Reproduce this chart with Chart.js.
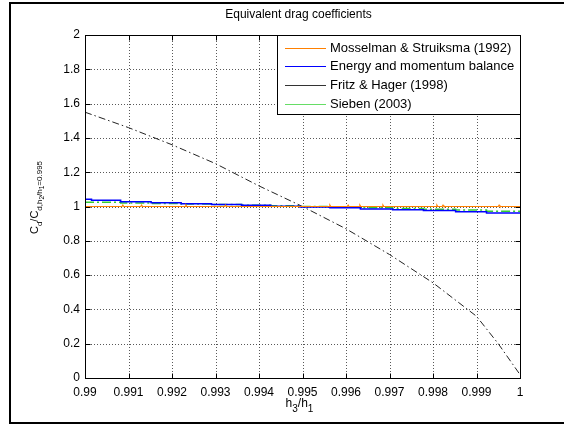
<!DOCTYPE html>
<html><head><meta charset="utf-8">
<script src="https://cdn.jsdelivr.net/npm/chart.js@4/dist/chart.umd.min.js"></script>
<style>html,body{margin:0;padding:0;background:#fff;}#wrap{position:relative;width:564px;height:425px;}</style>
</head><body><div id="wrap"><canvas id="c" width="564" height="425"></canvas></div>
<script>
const chartTitle = 'Equivalent drag coefficients';
const xTicks = [0.99,0.991,0.992,0.993,0.994,0.995,0.996,0.997,0.998,0.999,1.0];
const xTickLabels = ['0.99','0.991','0.992','0.993','0.994','0.995','0.996','0.997','0.998','0.999','1'];
const yTicks = [0,0.2,0.4,0.6,0.8,1,1.2,1.4,1.6,1.8,2];
const yTickLabels = ['0','0.2','0.4','0.6','0.8','1','1.2','1.4','1.6','1.8','2'];
const seriesLabels = ['Mosselman & Struiksma (1992)','Energy and momentum balance','Fritz & Hager (1998)','Sieben (2003)'];

const mosselmanX = [0.99, 0.99085,0.99087,0.99089, 0.99128,0.9913,0.99132, 0.9923,0.99232,0.99234, 0.99321,0.99323,0.99325, 0.99561,0.99563,0.99565, 0.99603,0.99605,0.99607, 0.9963,0.99632,0.99634, 0.99683,0.99685,0.99687, 0.99807,0.99809,0.99811, 0.99821,0.99823,0.99825, 0.9995,0.99952,0.99954, 1.0];
const mosselmanY = [1.0, 1,1.008,1, 1,1.008,1, 1,1.008,1, 1,1.008,1, 1,1.008,1, 1,1.008,1, 1,1.008,1, 1,1.008,1, 1,1.008,1, 1,1.008,1, 1,1.008,1, 1.0];

const energyX = [0.99,0.99015,0.99082,0.99152,0.99221,0.99291,0.9936,0.99427,0.99494,0.99563,0.99633,0.99707,0.99778,0.99852,0.99923,1.0];
const energyY = [1.042,1.036,1.028,1.022,1.016,1.012,1.007,1.002,0.997,0.992,0.986,0.981,0.976,0.970,0.962,0.962];

const fritzX = [0.99,0.991,0.992,0.993,0.994,0.995,0.996,0.997,0.998,0.999,0.9995,1.0];
const fritzY = [1.55,1.46,1.36,1.25,1.12,1.0,0.87,0.72,0.555,0.36,0.2,0.02];

const siebenX = [0.99,0.99082,0.99152,0.99221,0.99291,0.9936,0.99427,0.99494,0.99563,0.99633,0.99707,0.99778,0.99852,0.99923,1.0];
const siebenY = [1.025,1.021,1.018,1.014,1.011,1.007,1.004,1.0,0.996,0.992,0.988,0.984,0.979,0.973,0.973];

const pts = (xs, ys) => xs.map((x, i) => ({x: x, y: ys[i]}));
const FONT = "'Liberation Sans', Arial, sans-serif";

function drawRich(ctx, parts) {
  let u = 0;
  parts.forEach(p => {
    ctx.font = p.size + 'px ' + FONT;
    ctx.fillText(p.t, u, p.shift);
    u += ctx.measureText(p.t).width;
  });
  return u;
}
function richWidth(ctx, parts) {
  let u = 0;
  parts.forEach(p => { ctx.font = p.size + 'px ' + FONT; u += ctx.measureText(p.t).width; });
  return u;
}

const decor = {
  id: 'decor',
  beforeDatasetsDraw(chart) {
    const ctx = chart.ctx, xs = chart.scales.x, ys = chart.scales.y, a = chart.chartArea;
    ctx.save();
    ctx.strokeStyle = 'rgba(0,0,0,0.65)';
    ctx.lineWidth = 1;
    ctx.setLineDash([1, 2]);
    xTicks.forEach(v => {
      const px = Math.round(xs.getPixelForValue(v)) + 0.5;
      if (px <= a.left + 1 || px >= a.right - 1) return;
      ctx.beginPath(); ctx.moveTo(px, a.bottom); ctx.lineTo(px, a.top); ctx.stroke();
    });
    yTicks.forEach(v => {
      const py = Math.round(ys.getPixelForValue(v)) + 0.5;
      if (py <= a.top + 1 || py >= a.bottom - 1) return;
      ctx.beginPath(); ctx.moveTo(a.left, py); ctx.lineTo(a.right, py); ctx.stroke();
    });
    ctx.restore();
  },
  afterDraw(chart) {
    const ctx = chart.ctx, xs = chart.scales.x, ys = chart.scales.y, a = chart.chartArea;
    ctx.save();
    ctx.strokeStyle = '#000'; ctx.lineWidth = 1; ctx.setLineDash([]);
    const L = Math.round(a.left) + 0.5, R = Math.round(a.right) + 0.5, T = Math.round(a.top) + 0.5, B = Math.round(a.bottom) + 0.5;
    ctx.strokeRect(L, T, R - L, B - T);
    ctx.beginPath();
    xTicks.forEach(v => {
      const px = Math.round(xs.getPixelForValue(v)) + 0.5;
      ctx.moveTo(px, B); ctx.lineTo(px, B - 5);
      ctx.moveTo(px, T); ctx.lineTo(px, T + 5);
    });
    yTicks.forEach(v => {
      const py = Math.round(ys.getPixelForValue(v)) + 0.5;
      ctx.moveTo(L, py); ctx.lineTo(L + 5, py);
      ctx.moveTo(R, py); ctx.lineTo(R - 5, py);
    });
    ctx.stroke();

    // legend
    const lw = 243, lh = 79;
    const lx = Math.round(a.right) - lw, ly = Math.round(a.top);
    ctx.fillStyle = '#fff';
    ctx.fillRect(lx + 0.5, ly + 0.5, lw, lh);
    ctx.strokeStyle = '#000';
    ctx.lineWidth = 1;
    ctx.strokeRect(lx + 0.5, ly + 0.5, lw, lh);
    ctx.textBaseline = 'middle'; ctx.textAlign = 'left';
    ctx.font = '13px ' + FONT;
    chart.data.datasets.forEach((ds, i) => {
      const yy = ly + 12.5 + i * 18.7;
      ctx.strokeStyle = ds.legendColor || ds.borderColor;
      ctx.lineWidth = 1;
      ctx.setLineDash([]);
      ctx.beginPath(); ctx.moveTo(lx + 8, Math.round(yy) + 0.5); ctx.lineTo(lx + 49, Math.round(yy) + 0.5); ctx.stroke();
      ctx.fillStyle = '#000';
      ctx.fillText(ds.label, lx + 53, yy + 0.5);
    });

    // title
    ctx.fillStyle = '#000';
    ctx.font = '12px ' + FONT;
    ctx.textAlign = 'center'; ctx.textBaseline = 'alphabetic';
    ctx.fillText(chartTitle, (a.left + a.right) / 2 - 4, 18);

    // x axis title h3/h1
    ctx.textAlign = 'left';
    const xParts = [{t:'h', size:12, shift:0},{t:'3', size:10, shift:5},{t:'/h', size:12, shift:0},{t:'1', size:10, shift:5}];
    const xw = richWidth(ctx, xParts);
    ctx.save();
    ctx.translate((a.left + a.right) / 2 - 3 - xw / 2, 407);
    drawRich(ctx, xParts);
    ctx.restore();

    // y axis title
    const yParts = [{t:'C', size:11, shift:0},{t:'d', size:8, shift:4},{t:'/C', size:11, shift:0},{t:'d,h', size:8, shift:4},{t:'2', size:6.5, shift:6},{t:'/h', size:8, shift:4},{t:'1', size:6.5, shift:6},{t:'=0.995', size:8, shift:4}];
    const yw = richWidth(ctx, yParts);
    ctx.save();
    ctx.translate(38, (a.top + a.bottom) / 2 - 9 + yw / 2);
    ctx.rotate(-Math.PI / 2);
    drawRich(ctx, yParts);
    ctx.restore();

    // outer figure frame
    ctx.fillStyle = '#000';
    ctx.fillRect(9, 2, 555, 2);
    ctx.fillRect(9, 2, 2, 422);
    ctx.fillRect(9, 422, 555, 2);
    ctx.restore();
  }
};

new Chart(document.getElementById('c'), {
  type: 'line',
  data: {
    datasets: [
      {label: seriesLabels[0], data: pts(mosselmanX, mosselmanY), borderColor: '#ff8000', borderWidth: 1.2, pointRadius: 0},
      {label: seriesLabels[1], data: pts(energyX, energyY), borderColor: '#0000ff', borderWidth: 1.5, pointRadius: 0, stepped: true},
      {label: seriesLabels[2], data: pts(fritzX, fritzY), borderColor: '#222', legendColor: '#333', borderWidth: 1, pointRadius: 0, borderDash: [7, 3, 1.5, 3]},
      {label: seriesLabels[3], data: pts(siebenX, siebenY), borderColor: '#33cc33', legendColor: '#66dd66', borderWidth: 1.5, pointRadius: 0, stepped: true, borderDash: [9, 3, 2, 3]}
    ]
  },
  options: {
    responsive: false,
    devicePixelRatio: 1,
    animation: false,
    events: [],
    layout: {padding: {top: 35, right: 44, left: 0, bottom: 0}},
    plugins: {legend: {display: false}, title: {display: false}, tooltip: {enabled: false}},
    scales: {
      x: {
        type: 'linear', min: 0.99, max: 1.0,
        afterBuildTicks: s => { s.ticks = xTicks.map(v => ({value: v})); },
        afterFit: s => { s.height = 47; },
        grid: {display: false, drawTicks: false},
        border: {display: false},
        ticks: {
          autoSkip: false, maxRotation: 0, minRotation: 0, padding: 7, color: '#000',
          font: {family: FONT, size: 12},
          callback: (v, i) => xTickLabels[i]
        }
      },
      y: {
        type: 'linear', min: 0, max: 2,
        afterBuildTicks: s => { s.ticks = yTicks.map(v => ({value: v})); },
        afterFit: s => { s.width = 85; },
        grid: {display: false, drawTicks: false},
        border: {display: false},
        ticks: {
          padding: 5, color: '#000',
          font: {family: FONT, size: 12},
          callback: (v, i) => yTickLabels[i]
        }
      }
    }
  },
  plugins: [decor]
});
</script>
</body></html>
